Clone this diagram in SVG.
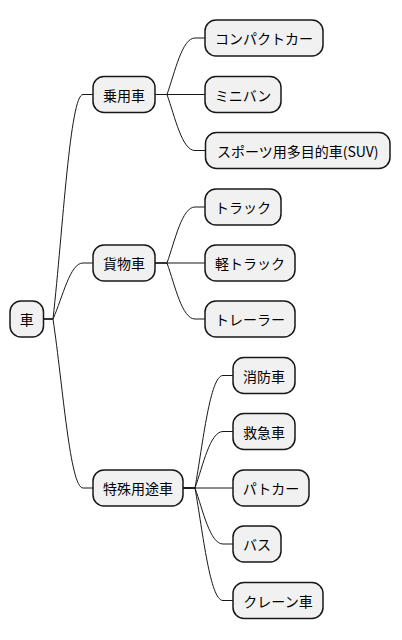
<svg xmlns="http://www.w3.org/2000/svg" width="402" height="640" viewBox="0 0 402 640">
<style>
.n rect{fill:#F1F1F1;stroke:#181818;stroke-width:1.5}
.n text{font-family:"Noto Sans CJK JP","Noto Sans",sans-serif;font-size:14px;fill:#000;text-anchor:middle;dominant-baseline:central}
#edges path{fill:none;stroke:#181818;stroke-width:1}
</style>
<rect width="402" height="640" fill="#fff"/>
<g id="edges">
<path d="M43.5,319 H53 C63,229 70,94.5 83,94.5 H93"/>
<path d="M43.5,319 H53 C63,296.5 70,263 83,263 H93"/>
<path d="M43.5,319 H53 C63,386.5 70,488 83,488 H93"/>
<path d="M155,94.5 H167 C175,72 182,38 195,38 H205"/>
<path d="M155,94.5 H205"/>
<path d="M155,94.5 H167 C175,117 182,150.5 195,150.5 H205"/>
<path d="M155,263 H167 C175,240.5 182,207 195,207 H205"/>
<path d="M155,263 H205"/>
<path d="M155,263 H167 C175,285.5 182,319 195,319 H205"/>
<path d="M183,488 H195 C203,443 210,375.5 223,375.5 H233"/>
<path d="M183,488 H195 C203,465.5 210,431.5 223,431.5 H233"/>
<path d="M183,488 H233"/>
<path d="M183,488 H195 C203,510.5 210,544 223,544 H233"/>
<path d="M183,488 H195 C203,533 210,600.5 223,600.5 H233"/>
</g>
<g id="root" class="n"><rect x="10" y="301" width="33.5" height="36" rx="11"/><text x="26.75" y="319">車</text></g>
<g id="jouyousha" class="n"><rect x="93" y="76.5" width="62" height="36" rx="11"/><text x="124" y="94.5">乗用車</text></g>
<g id="compact" class="n"><rect x="205" y="20" width="118" height="36" rx="11"/><text x="264" y="38">コンパクトカー</text></g>
<g id="minivan" class="n"><rect x="205" y="76.5" width="76" height="36" rx="11"/><text x="243" y="94.5">ミニバン</text></g>
<g id="suv" class="n"><rect x="205.5" y="132.5" width="184.5" height="36" rx="11"/><text x="297.75" y="150.5">スポーツ用多目的車(SUV)</text></g>
<g id="kamotsu" class="n"><rect x="93" y="245" width="62" height="36" rx="11"/><text x="124" y="263">貨物車</text></g>
<g id="truck" class="n"><rect x="205" y="189" width="76" height="36" rx="11"/><text x="243" y="207">トラック</text></g>
<g id="kei" class="n"><rect x="205" y="245" width="90" height="36" rx="11"/><text x="250" y="263">軽トラック</text></g>
<g id="trailer" class="n"><rect x="205" y="301" width="90" height="36" rx="11"/><text x="250" y="319">トレーラー</text></g>
<g id="tokushu" class="n"><rect x="93" y="470" width="90" height="36" rx="11"/><text x="138" y="488">特殊用途車</text></g>
<g id="shobo" class="n"><rect x="233" y="357.5" width="62" height="36" rx="11"/><text x="264" y="375.5">消防車</text></g>
<g id="kyukyu" class="n"><rect x="233" y="413.5" width="62" height="36" rx="11"/><text x="264" y="431.5">救急車</text></g>
<g id="patocar" class="n"><rect x="233" y="470" width="76" height="36" rx="11"/><text x="271" y="488">パトカー</text></g>
<g id="bus" class="n"><rect x="233" y="526" width="48" height="36" rx="11"/><text x="257" y="544">バス</text></g>
<g id="crane" class="n"><rect x="233" y="582.5" width="90" height="36" rx="11"/><text x="278" y="600.5">クレーン車</text></g>
</svg>
